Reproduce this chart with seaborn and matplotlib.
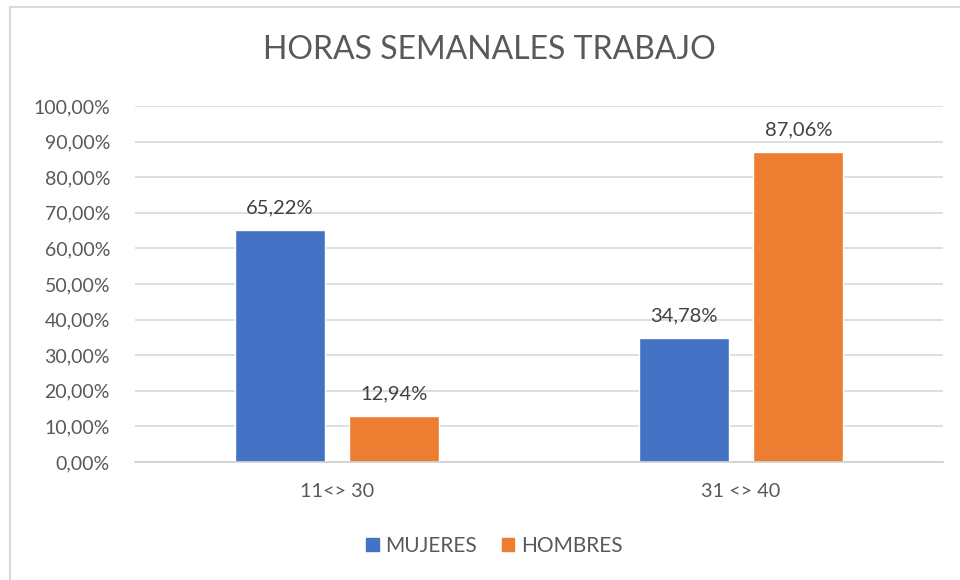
import pandas as pd
import matplotlib
matplotlib.use('Agg')
import matplotlib.pyplot as plt
import matplotlib.patches as mpatches
import seaborn as sns

# Chart data
categories = ['11<> 30', '31 <> 40']
series = ['MUJERES', 'HOMBRES']
mujeres = [0.6522, 0.3478]
hombres = [0.1294, 0.8706]
y_ticks = [i / 10 for i in range(11)]

df = pd.DataFrame({
    'Rango': categories * 2,
    'Sexo': [series[0]] * len(categories) + [series[1]] * len(categories),
    'Valor': mujeres + hombres,
})

sns.set_style('white')
plt.rcParams['font.family'] = ['Lato', 'DejaVu Sans']

colors = {'MUJERES': '#4472C4', 'HOMBRES': '#ED7D31'}
text_gray = '#595959'

fig = plt.figure(figsize=(9.6, 5.8), dpi=100)
ax = fig.add_axes([135 / 960, 1 - 462 / 580, 808 / 960, 356 / 580])

sns.barplot(data=df, x='Rango', y='Valor', hue='Sexo', hue_order=series,
            palette=colors, width=0.569, gap=0.217, saturation=1,
            legend=False, ax=ax)

ax.set_ylim(0, 1.0)
ax.set_xlim(-0.5, 1.5)
ax.set_yticks(y_ticks)
ax.set_yticklabels([f'{v * 100:.2f}%'.replace('.', ',') for v in y_ticks])
ax.grid(axis='y', color='#d9d9d9', linewidth=1.2)
ax.set_axisbelow(True)
for s in ['top', 'right', 'left']:
    ax.spines[s].set_visible(False)
ax.spines['bottom'].set_color('#d0d0d0')
ax.spines['bottom'].set_linewidth(1.2)
ax.tick_params(axis='y', length=0, pad=18, labelsize=14, labelcolor=text_gray)
ax.tick_params(axis='x', length=0, pad=15, labelsize=14.3, labelcolor=text_gray)
ax.set_xlabel('')
ax.set_ylabel('')

# Data labels
for container in ax.containers:
    ax.bar_label(container, labels=[f'{v * 100:.2f}%'.replace('.', ',') for v in container.datavalues],
                 padding=10, fontsize=14.5, color='#404040')

fig.text(0.51, 1 - 50 / 580, 'HORAS SEMANALES TRABAJO', ha='center', va='center',
         fontsize=23, color=text_gray, fontweight='normal')

handles = [mpatches.Patch(color=colors[s], label=s) for s in series]
fig.legend(handles=handles, loc='center', bbox_to_anchor=(0.515, 1 - 546 / 580), ncol=2,
           frameon=False, fontsize=15, labelcolor=text_gray, handlelength=0.6,
           handleheight=0.6, handletextpad=0.3, columnspacing=1.2)

# Chart border (cropped at right and bottom)
border = mpatches.Rectangle((10 / 960, -0.1), 1.1, 1 - 7 / 580 + 0.1, transform=fig.transFigure,
                            fill=False, edgecolor='#d9d9d9', linewidth=1.5)
fig.patches.append(border)

fig.savefig('out.png', dpi=100)
